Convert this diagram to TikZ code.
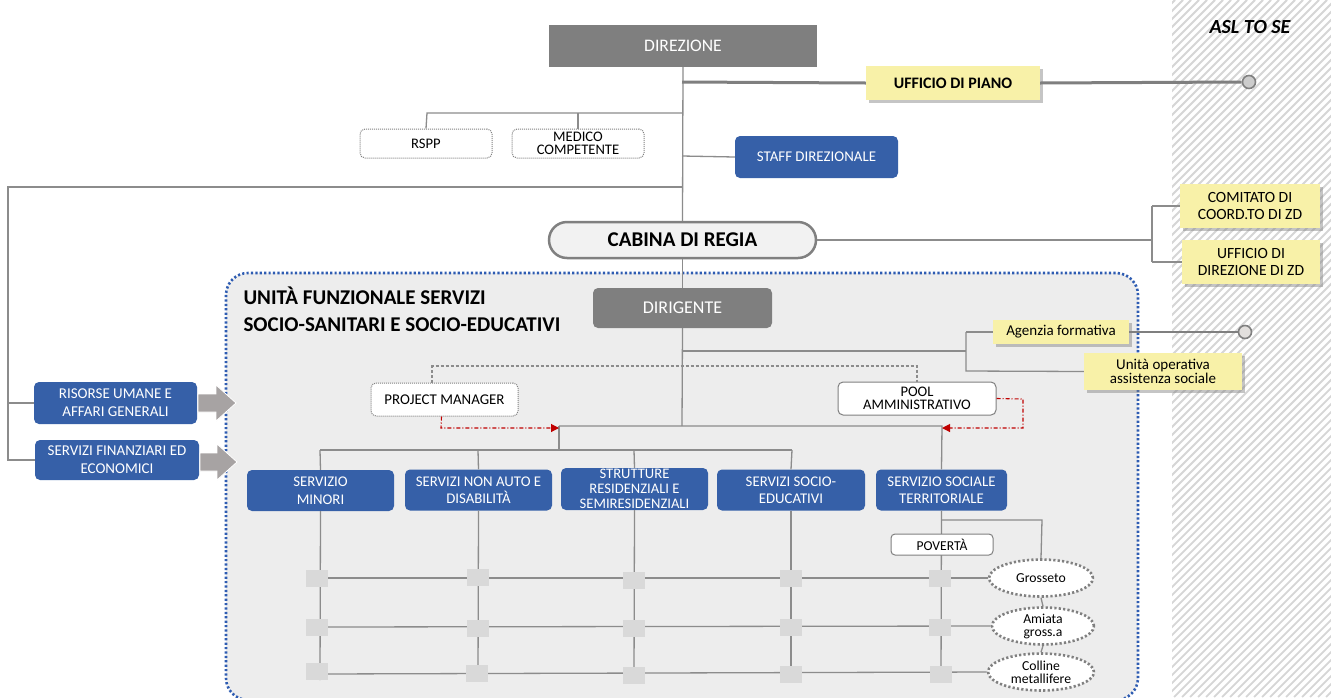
\documentclass[tikz,border=0pt]{standalone}
\usepackage{fontspec}
\setmainfont{Carlito}
\usetikzlibrary{calc,shadows,arrows.meta,shapes.geometric}

\definecolor{boxblue}{HTML}{3660A8}
\definecolor{dirgray}{HTML}{7F7F7F}
\definecolor{linegray}{HTML}{8C8C8C}
\definecolor{paleyellow}{HTML}{F8F1A8}
\definecolor{framefill}{HTML}{EDEDED}
\definecolor{framblue}{HTML}{2E5CB2}
\definecolor{sqgray}{HTML}{D9D9D9}
\definecolor{hatchgray}{HTML}{D6D6D6}
\definecolor{linkred}{HTML}{C00000}
\definecolor{arrowgray}{HTML}{A7A3A3}

\newcommand{\fs}[1]{\fontsize{#1}{#1}\selectfont}

\tikzset{
  conn/.style={draw=linegray, line width=1.3pt},
  thickconn/.style={draw=dirgray, line width=3pt},
  dashconn/.style={draw=linegray, line width=1.1pt, dash pattern=on 3pt off 2pt},
  redlink/.style={draw=linkred, line width=1.1pt, dash pattern=on 4pt off 2pt on 1pt off 2pt,
    -{Triangle[length=8pt,width=8pt]}},
  graybox/.style={rectangle, fill=dirgray, text=white, inner sep=0pt, align=center},
  bluebox/.style={rectangle, rounded corners=5pt, fill=boxblue, text=white, inner sep=0pt,
    align=center, font=\fontsize{14.8}{17.5}\selectfont},
  yellowbox/.style={rectangle, fill=paleyellow, inner sep=0pt, align=center,
    drop shadow={shadow xshift=2.5pt, shadow yshift=-2.5pt, opacity=0.45, fill=gray}},
  dotbox/.style={rectangle, rounded corners=5pt, fill=white, draw=gray, line width=1pt,
    dash pattern=on 1pt off 1pt, inner sep=0pt, align=center, font=\fontsize{14.6}{13.6}\selectfont},
  plainbox/.style={rectangle, rounded corners=5pt, fill=white, draw=gray, line width=1pt,
    inner sep=0pt, align=center},
  gridsq/.style={rectangle, fill=sqgray, minimum width=22pt, minimum height=17pt, inner sep=0pt},
  areabox/.style={ellipse, fill=white, draw=gray, line width=2.6pt, dash pattern=on 2.2pt off 2.2pt,
    inner sep=0pt, align=center, font=\fontsize{13.7}{13}\selectfont},
  endcirc/.style={circle, minimum size=13pt, inner sep=0pt, line width=1.6pt},
  bigarrow/.style={fill=arrowgray, draw=white, line width=0.8pt}
}

\begin{document}
\begin{tikzpicture}[x=1pt,y=-1pt]
\useasboundingbox (0,0) rectangle (1331,697);
\fill[white] (0,0) rectangle (1331,697);

% hatched band on the right
\begin{scope}
  \clip (1172,0) rectangle (1331,697);
  \foreach \x in {470,478,...,1340}
    \draw[hatchgray, line width=1.8pt] (\x,697) -- ++(697,-697);
\end{scope}
\node[font=\fs{20}\bfseries\itshape] (asl) at (1250,27) {ASL TO SE};

% functional unit frame
\draw[fill=framefill, draw=framblue, line width=2.6pt, dash pattern=on 2.2pt off 2.2pt,
  rounded corners=22pt] (226,273) rectangle (1138,700);
\node[anchor=north west, align=left, font=\fontsize{21}{27}\selectfont\bfseries] (ufss) at (240,283)
  {UNITÀ FUNZIONALE SERVIZI\\SOCIO-SANITARI E SOCIO-EDUCATIVI};

% top level nodes
\node[graybox, minimum width=268pt, minimum height=42pt, font=\fs{17.6}] (dir) at (683,46) {DIREZIONE};
\node[yellowbox, minimum width=174pt, minimum height=34pt, font=\fs{16}\bfseries] (udp) at (953,83) {UFFICIO DI PIANO};
\node[endcirc, fill=gray!40, draw=gray] (c1) at (1249,82) {};
\node[dotbox, minimum width=132pt, minimum height=29pt] (rspp) at (426,143.5) {RSPP};
\node[dotbox, minimum width=132pt, minimum height=29pt] (medico) at (578,143.5) {MEDICO\\COMPETENTE};
\node[bluebox, minimum width=163pt, minimum height=42pt, font=\fs{14.9}] (staff) at (816.5,157) {STAFF DIREZIONALE};
\node[rectangle, rounded corners=18pt, fill=gray!10, draw=gray, line width=2.5pt,
  minimum width=267pt, minimum height=36pt, inner sep=0pt, font=\fs{21}\bfseries] (cabina) at (682.5,240) {CABINA DI REGIA};
\node[yellowbox, minimum width=140pt, minimum height=44pt, font=\fontsize{15.6}{17.5}\selectfont] (comitato) at (1250,206) {COMITATO DI\\COORD.TO DI ZD};
\node[yellowbox, minimum width=138pt, minimum height=44pt, font=\fontsize{15.6}{17.5}\selectfont] (uddz) at (1251,262) {UFFICIO DI\\DIREZIONE DI ZD};

% left support services
\node[bluebox, minimum width=163pt, minimum height=42pt, font=\fontsize{15}{18}\selectfont] (risorse) at (115.5,403) {RISORSE UMANE E\\AFFARI GENERALI};
\node[bluebox, minimum width=164pt, minimum height=40pt, font=\fontsize{15}{18}\selectfont] (finanz) at (117,460) {SERVIZI FINANZIARI ED\\ECONOMICI};

% unit internals
\node[graybox, rounded corners=5pt, minimum width=179pt, minimum height=40pt, font=\fs{18}] (dirig) at (682.5,308) {DIRIGENTE};
\node[yellowbox, minimum width=136pt, minimum height=24pt, font=\fs{15}] (agenzia) at (1061,332) {Agenzia formativa};
\node[endcirc, fill=brown!15!gray!25, draw=gray] (c2) at (1245,332) {};
\node[yellowbox, minimum width=158pt, minimum height=37pt, font=\fontsize{15}{13.5}\selectfont] (uoas) at (1163,371.5) {Unità operativa\\assistenza sociale};
\node[dotbox, minimum width=147pt, minimum height=33pt, font=\fs{14.9}] (pm) at (444.5,399.5) {PROJECT MANAGER};
\node[plainbox, minimum width=158pt, minimum height=33pt, font=\fontsize{14.6}{13.6}\selectfont] (pool) at (917,398.5) {POOL\\AMMINISTRATIVO};

% services
\node[bluebox, minimum width=147pt, minimum height=41pt] (s1) at (320.5,490.5) {SERVIZIO\\MINORI};
\node[bluebox, minimum width=147pt, minimum height=41pt] (s2) at (478.5,490) {SERVIZI NON AUTO E\\DISABILITÀ};
\node[bluebox, minimum width=147pt, minimum height=42pt, font=\fontsize{14.6}{15}\selectfont] (s3) at (634.5,489) {STRUTTURE\\RESIDENZIALI E\\SEMIRESIDENZIALI};
\node[bluebox, minimum width=148pt, minimum height=41pt] (s4) at (791,490) {SERVIZI SOCIO-\\EDUCATIVI};
\node[bluebox, minimum width=131pt, minimum height=41pt] (s5) at (941.5,490) {SERVIZIO SOCIALE\\TERRITORIALE};

% territorial areas
\node[areabox, minimum width=104pt, minimum height=37pt] (gro) at (1041,578) {Grosseto};
\node[areabox, minimum width=102pt, minimum height=37pt] (ami) at (1043,626) {Amiata\\gross.a};
\node[areabox, minimum width=106pt, minimum height=37pt] (col) at (1041,672) {Colline\\metallifere};

% coordinates of the connector joints
\coordinate (jUdp) at (682,82);
\coordinate (jMed) at (682,113);
\coordinate (jStaff) at (682,156);
\coordinate (jLeft) at (682,187);
\coordinate (jUnit) at (682,351);
\coordinate (jBar) at (682,426);
\coordinate (jCab) at (1152,240);

% top hierarchy
\draw[conn] (dir.south) -- (cabina.north);
\draw[conn] (cabina.south) -- (dirig.north);
\draw[thickconn] (jUdp) -- (udp.west);
\draw[thickconn] (udp.east) -- (c1.west);
\draw[conn] (jMed) -- (427,113) -- (rspp.north);
\draw[conn] (578,113) -- (medico.north);
\draw[conn] (jStaff) -- (staff.west);
\draw[conn] (jLeft) -- (8,187) -- (8,460) -- (finanz.west);
\draw[conn] (8,403) -- (risorse.west);
\draw[conn] (cabina.east) -- (jCab);
\draw[conn] (1152,206) -- (1152,262);
\draw[conn] (1152,206) -- (comitato.west);
\draw[conn] (1152,262) -- (uddz.west);

% gray arrows into the unit
\fill[bigarrow] (198,394) -- (216,394) -- (216,385) -- (236,403) -- (216,421) -- (216,412) -- (198,412) -- cycle;
\fill[bigarrow] (200,453) -- (217,453) -- (217,444) -- (237,462) -- (217,480) -- (217,471) -- (200,471) -- cycle;

% unit hierarchy
\draw[conn] (dirig.south) -- (jBar);
\draw[conn] (jUnit) -- (966,351);
\draw[conn] (966,332) -- (966,371) -- (uoas.west);
\draw[conn] (966,332) -- (agenzia.west);
\draw[thickconn, line width=2.2pt] (agenzia.east) -- (c2.west);
\draw[dashconn] ($(pm.north)+(-12.5,0)$) -- (432,366) -- (917,366) -- (pool.north);
\draw[conn] (559,426) -- (942,426) -- (s5.north);
\draw[conn] (559,426) -- (559,450);
\draw[conn] (320,450) -- (792,450);
\draw[conn] (320,450) -- (s1.north);
\draw[conn] (478,450) -- (s2.north);
\draw[conn] (634,450) -- (s3.north);
\draw[conn] (792,450) -- (s4.north);
\draw[redlink] ($(pm.south)+(-3,0)$) -- (441,428) -- (559,428);
\draw[redlink] (pool.east) -- (1023,399) -- (1023,428) -- (942,428);

% grid of services by area
\foreach \s/\x in {s1/320,s2/478,s3/634,s4/791,s5/941}
  \draw[conn] (\s.south) -- (\x,680);
\draw[conn] (941,520) -- (1042,520) -- (gro.north);
\draw[conn] (320,578) -- (gro.west);
\draw[conn] (320,627) -- (ami.west);
\draw[conn] (320,674) -- (col.west);
\draw[conn] (gro.south) -- (ami.north);
\draw[conn] (ami.south) -- (col.north);
\node[plainbox, rounded corners=4pt, minimum width=102pt, minimum height=21pt, font=\fs{13.6}] (pov) at (942,544.5) {POVERTÀ};

\foreach \x/\y [count=\i] in {317/578,478/577,634/580,791/578,940/578,
                              317/627,478/628,634/628,791/627,940/627,
                              317/671,477/673,634/675,791/674,941/674}
  \node[gridsq] (q\i) at (\x,\y) {};
\end{tikzpicture}
\end{document}
